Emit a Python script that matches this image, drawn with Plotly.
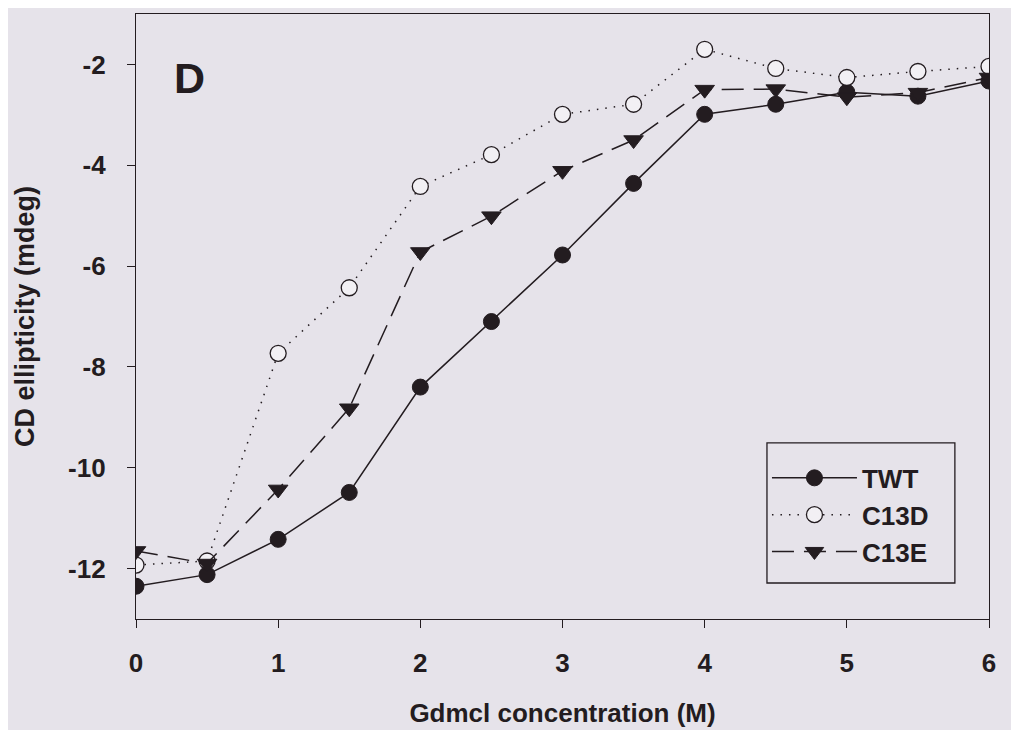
import plotly.graph_objects as go

gdm = [0, 0.5, 1, 1.5, 2, 2.5, 3, 3.5, 4, 4.5, 5, 5.5, 6]
twt = [-12.35, -12.12, -11.42, -10.49, -8.40, -7.10, -5.78, -4.36, -2.99, -2.79, -2.55, -2.63, -2.33]
c13d = [-11.93, -11.85, -7.73, -6.43, -4.42, -3.79, -2.99, -2.79, -1.70, -2.08, -2.26, -2.14, -2.04]
c13e = [-11.65, -11.90, -10.43, -8.82, -5.72, -5.01, -4.11, -3.50, -2.50, -2.49, -2.65, -2.56, -2.26]

x_ticks = [0, 1, 2, 3, 4, 5, 6]
x_labels = ["0", "1", "2", "3", "4", "5", "6"]
y_ticks = [-12, -10, -8, -6, -4, -2]
y_labels = ["-12", "-10", "-8", "-6", "-4", "-2"]

BG = "#e6e3ea"
INK = "#231c20"
FONT = "Liberation Sans, Arial, sans-serif"

fig = go.Figure()
fig.add_trace(go.Scatter(
    x=gdm, y=twt, name="TWT", mode="lines+markers",
    line=dict(color=INK, width=1.5),
    marker=dict(symbol="circle", size=16, color=INK, line=dict(color=INK, width=1)),
))
fig.add_trace(go.Scatter(
    x=gdm, y=c13d, name="C13D", mode="lines+markers",
    line=dict(color=INK, width=1.5, dash="1.5px,7px"),
    marker=dict(symbol="circle", size=16, color="#f2f0f4", line=dict(color=INK, width=1.3)),
))
fig.add_trace(go.Scatter(
    x=gdm, y=c13e, name="C13E", mode="lines+markers",
    line=dict(color=INK, width=1.5, dash="22px,10px"),
    marker=dict(symbol="triangle-down", size=17, color=INK, line=dict(color=INK, width=1)),
))

axis_common = dict(
    showline=True, linecolor=INK, linewidth=1.3, mirror=True,
    ticks="outside", ticklen=8, tickwidth=1.3, tickcolor=INK,
    showgrid=False, zeroline=False,
    tickfont=dict(family=FONT, size=26, color=INK, weight="bold"),
)

# the page body adds an 8px offset, so the figure is sized/margined to compensate
fig.update_layout(
    width=1011, height=722,
    paper_bgcolor=BG, plot_bgcolor=BG,
    margin=dict(l=128, r=30, t=6, b=111),
    font=dict(family=FONT, color=INK),
    xaxis=dict(
        range=[0, 6], tickvals=x_ticks, ticktext=x_labels, ticklabelstandoff=13,
        title=dict(text="<b>Gdmcl concentration (M)</b>", standoff=26,
                   font=dict(family=FONT, size=26, color=INK)),
        **axis_common,
    ),
    yaxis=dict(
        range=[-13, -1], tickvals=y_ticks, ticktext=y_labels, ticklabelstandoff=16,
        title=dict(text="<b>CD ellipticity (mdeg)</b>", standoff=25,
                   font=dict(family=FONT, size=27, color=INK)),
        **axis_common,
    ),
    legend=dict(
        x=0.7397, y=0.272, xanchor="left", yanchor="top",
        bgcolor="rgba(0,0,0,0)", borderwidth=0,
        font=dict(family=FONT, size=26, color=INK, weight="bold"),
        itemwidth=85,
    ),
    shapes=[dict(
        type="rect", xref="paper", yref="paper",
        x0=0.7397, x1=0.960, y0=0.0595, y1=0.291,
        line=dict(color=INK, width=1.3), fillcolor="rgba(0,0,0,0)", layer="below",
    )],
    annotations=[dict(
        text="<b>D</b>", xref="paper", yref="paper", x=0.063, y=0.894,
        showarrow=False, font=dict(family=FONT, size=43, color=INK),
        xanchor="center", yanchor="middle",
    )],
)

fig.write_html("out.html")
